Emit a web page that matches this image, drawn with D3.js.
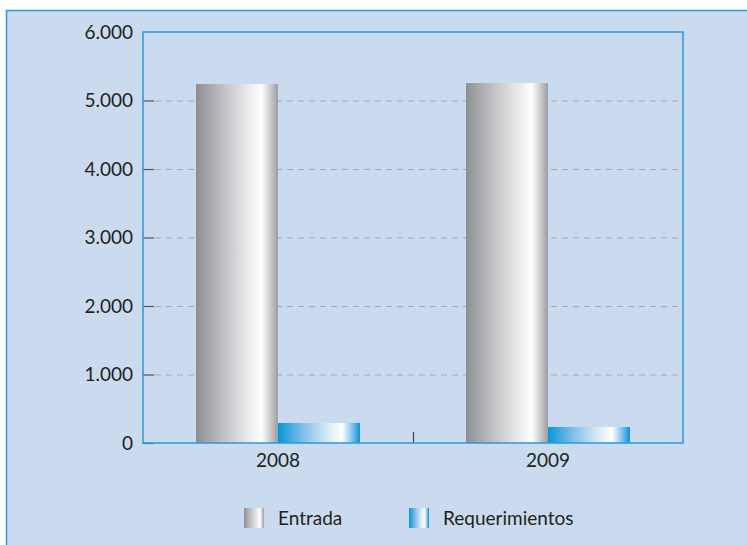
<!DOCTYPE html>
<html>
<head>
<meta charset="utf-8">
<script src="https://cdn.jsdelivr.net/npm/d3@7"></script>
<style>
  body { margin: 0; background: #fff; }
  svg text { font-family: Lato, "Open Sans", sans-serif; fill: #231f20; }
</style>
</head>
<body>
<div id="container"></div>
<script>
var years = ["2008", "2009"];
var seriesNames = ["Entrada", "Requerimientos"];
var entrada = [5240, 5255];
var requerimientos = [292, 234];
var yTicks = [0, 1000, 2000, 3000, 4000, 5000, 6000];

var W = 747, H = 545;
var margin = {top: 32, right: 64, bottom: 102, left: 143},
    width = W - margin.left - margin.right,
    height = H - margin.top - margin.bottom;

function drawChart() {
  var svg = d3.select("#container").append("svg")
      .attr("width", W).attr("height", H);

  var defs = svg.append("defs");
  function grad(id, stops) {
    var g = defs.append("linearGradient").attr("id", id)
        .attr("x1", "0").attr("x2", "1").attr("y1", "0").attr("y2", "0");
    stops.forEach(function(s) {
      g.append("stop").attr("offset", s[0]).attr("stop-color", s[1]);
    });
  }
  grad("gGray", [[0, "#8e8f93"], [0.3, "#bcbdc0"], [0.6, "#e4e5e6"], [0.8, "#ffffff"], [0.88, "#d8d9db"], [1, "#9c9da1"]]);
  grad("gBlue", [[0, "#0995d7"], [0.3, "#7fbde8"], [0.6, "#d6e9f7"], [0.78, "#ffffff"], [0.88, "#9dcdef"], [1, "#0f8fd6"]]);
  var fills = ["url(#gGray)", "url(#gBlue)"];

  // outer panel
  svg.append("rect").attr("x", 6.5).attr("y", 10.5)
      .attr("width", W).attr("height", H)
      .attr("fill", "#cadaef").attr("stroke", "#2a9bd6").attr("stroke-width", 1.5);

  var g = svg.append("g")
      .attr("transform", "translate(" + margin.left + "," + margin.top + ")");

  var x = d3.scaleBand().domain(years).range([0, width]).paddingInner(0).paddingOuter(0);
  var x1 = d3.scaleBand().domain(seriesNames).range([53, x.bandwidth() - 53]);
  var y = d3.scaleLinear().domain([0, 6000]).range([height, 0]);

  // grid lines
  g.selectAll(".grid").data(yTicks.filter(function(d) { return d > 0 && d < 6000; }))
    .enter().append("line")
      .attr("x1", 12).attr("x2", width)
      .attr("y1", function(d) { return y(d) + 0.5; })
      .attr("y2", function(d) { return y(d) + 0.5; })
      .attr("stroke", "#a9a9ad").attr("stroke-width", 1.2)
      .attr("stroke-dasharray", "6,5");

  // small ticks inside left axis
  g.selectAll(".ytk").data(yTicks.filter(function(d) { return d < 6000; }))
    .enter().append("line")
      .attr("x1", 0).attr("x2", 11)
      .attr("y1", function(d) { return y(d) + 0.5; })
      .attr("y2", function(d) { return y(d) + 0.5; })
      .attr("stroke", "#555").attr("stroke-width", 1.2);

  var data = years.map(function(yr, i) {
    return {year: yr, vals: [entrada[i], requerimientos[i]]};
  });

  var groups = g.selectAll(".yr").data(data).enter().append("g")
      .attr("transform", function(d) { return "translate(" + x(d.year) + ",0)"; });

  groups.selectAll("rect").data(function(d) {
      return d.vals.map(function(v, j) { return {name: seriesNames[j], v: v, j: j}; });
    })
    .enter().append("rect")
      .attr("x", function(d) { return x1(d.name); })
      .attr("width", x1.bandwidth())
      .attr("y", function(d) { return y(d.v); })
      .attr("height", function(d) { return height - y(d.v); })
      .attr("fill", function(d) { return fills[d.j]; });

  // category separator tick
  g.append("line")
      .attr("x1", x("2009") + 0.5).attr("x2", x("2009") + 0.5)
      .attr("y1", height - 11).attr("y2", height)
      .attr("stroke", "#444").attr("stroke-width", 1.2);

  // plot frame
  g.append("rect").attr("x", 0).attr("y", 0)
      .attr("width", width).attr("height", height)
      .attr("fill", "none").attr("stroke", "#2a9bd6").attr("stroke-width", 1.5);

  // y labels
  var fmt = function(d) { return d === 0 ? "0" : d3.format(",")(d).replace(/,/g, "."); };
  g.selectAll(".ylab").data(yTicks).enter().append("text")
      .attr("x", -10).attr("y", function(d) { return y(d); })
      .attr("dy", "0.35em").attr("text-anchor", "end")
      .attr("font-size", 19)
      .text(fmt);

  // x labels
  g.selectAll(".xlab").data(years).enter().append("text")
      .attr("x", function(d) { return x(d) + x.bandwidth() / 2; })
      .attr("y", height + 24)
      .attr("text-anchor", "middle").attr("font-size", 19)
      .text(function(d) { return d; });

  // legend
  var legX = [244, 409];
  var leg = svg.selectAll(".leg").data(seriesNames).enter().append("g")
      .attr("transform", function(d, i) { return "translate(" + legX[i] + ",508)"; });
  leg.append("rect").attr("width", 20).attr("height", 20)
      .attr("fill", function(d, i) { return fills[i]; });
  leg.append("text").attr("x", 34).attr("y", 10).attr("dy", "0.35em")
      .attr("font-size", 19).text(function(d) { return d; });
}
drawChart();
</script>
</body>
</html>
